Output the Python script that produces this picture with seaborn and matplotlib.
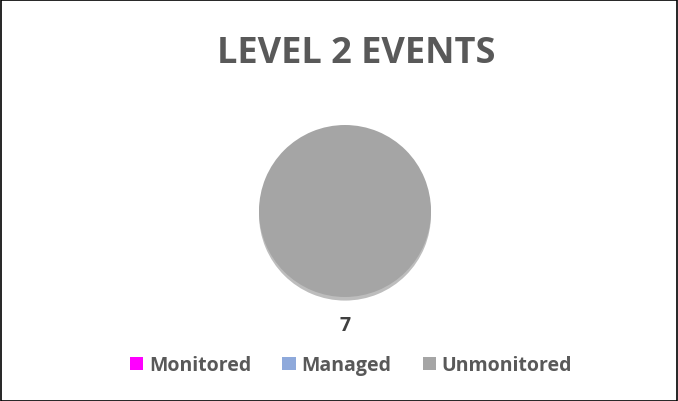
import matplotlib
matplotlib.use("Agg")
import matplotlib.pyplot as plt
from matplotlib.patches import Patch, Rectangle
import seaborn as sns

categories = ["Monitored", "Managed", "Unmonitored"]
values = [0, 0, 7]
colors = ["#FF00FF", "#8EA9DB", "#A5A5A5"]
title = "LEVEL 2 EVENTS"

sns.set_style("white")
FONT = ['Open Sans', 'DejaVu Sans']
plt.rcParams['font.family'] = FONT

W, H = 678, 402
fig = plt.figure(figsize=(W / 100, H / 100), dpi=100)
fig.patch.set_facecolor("white")

cx, cy, r = 345, 212, 86
ax = fig.add_axes([(cx - r) / W, (H - cy - r) / H, 2 * r / W, 2 * r / H])

labels = [str(v) if v > 0 else "" for v in values]
wedges, texts = ax.pie(values, colors=colors, startangle=90, counterclock=False,
                       radius=1, labels=labels, labeldistance=1.32,
                       shadow={'ox': 0.0, 'oy': -0.03, 'shade': 0.6, 'alpha': 0.35},
                       wedgeprops=dict(linewidth=0), normalize=True)
ax.set_xlim(-1, 1)
ax.set_ylim(-1, 1)
ax.set_axis_off()
for t in texts:
    t.set_fontsize(14)
    t.set_fontweight("bold")
    t.set_color("#404040")
    t.set_ha("center")
    t.set_va("center")

fig.text(356 / W, 1 - 54 / H, title, ha="center", va="center",
         fontsize=26, fontweight="bold", color="#595959")

handles = [Patch(facecolor=c, edgecolor="none", label=l) for c, l in zip(colors, categories)]
leg = fig.legend(handles=handles, loc="center", bbox_to_anchor=(351 / W, 1 - 366 / H),
                 ncol=3, frameon=False, handlelength=0.68, handleheight=0.68,
                 handletextpad=0.3, columnspacing=1.6,
                 prop=dict(family=FONT, weight="bold", size=14))
for t in leg.get_texts():
    t.set_color("#595959")

fig.add_artist(Rectangle((0.5 / W, 0.5 / H), 1 - 1.5 / W, 1 - 1.5 / H,
                         transform=fig.transFigure, fill=False,
                         edgecolor="black", linewidth=1.2))

fig.savefig("out.png", dpi=100)
